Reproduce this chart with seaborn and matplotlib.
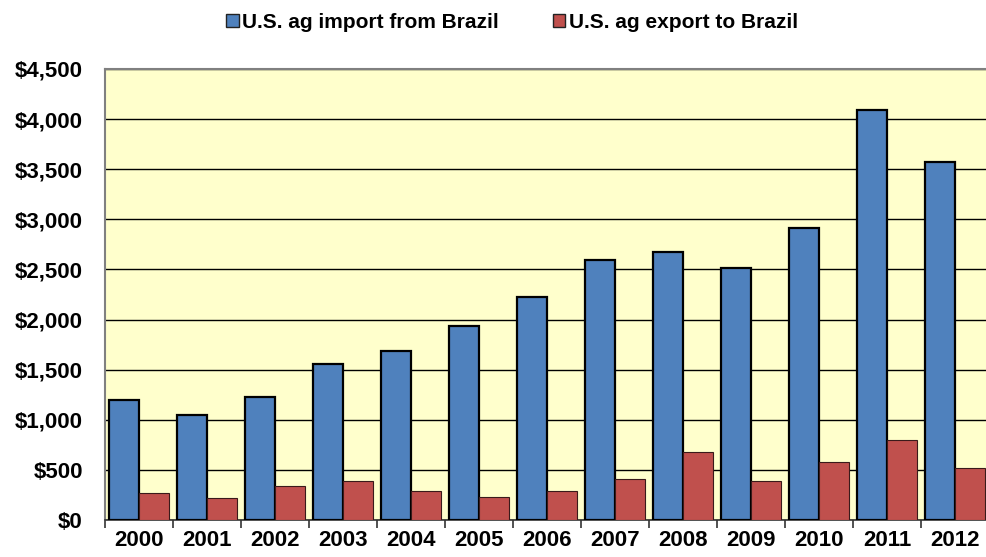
import pandas as pd
import numpy as np
import matplotlib.pyplot as plt
import seaborn as sns

# datos (millones de USD)
years = ['2000', '2001', '2002', '2003', '2004', '2005', '2006',
         '2007', '2008', '2009', '2010', '2011', '2012']
imports = [1195, 1050, 1225, 1560, 1690, 1940, 2225,
           2595, 2675, 2515, 2910, 4090, 3570]
exports = [272, 222, 338, 392, 290, 232, 290,
           410, 680, 390, 580, 800, 518]
series = ['U.S. ag import from Brazil', 'U.S. ag export to Brazil']

df = pd.DataFrame({
    'year': years * 2,
    'value': imports + exports,
    'serie': [series[0]] * len(years) + [series[1]] * len(years),
})

#%%
sns.set_style('white')
plt.rcParams['font.family'] = ['Liberation Sans', 'DejaVu Sans']
plt.rcParams['font.weight'] = 'bold'
plt.rcParams['text.color'] = 'black'
plt.rcParams['xtick.color'] = 'black'
plt.rcParams['ytick.color'] = 'black'

fig = plt.figure(figsize=(9.87, 5.57), dpi=100)
ax = fig.add_axes([105 / 987, 1 - 520 / 557, 884 / 987, 451 / 557])
ax.set_facecolor('#FFFFCC')

sns.barplot(data=df, x='year', y='value', hue='serie', order=years,
            hue_order=series, palette=['#4F81BD', '#C0504D'], saturation=1,
            width=0.87, gap=0, ax=ax, legend=False, zorder=3)

n = len(years)
for i, p in enumerate(ax.patches):
    if i < n:
        p.set_edgecolor('black')
        p.set_linewidth(1.6)
    else:
        p.set_edgecolor('#3a1a1a')
        p.set_linewidth(0.8)

# ejes y grilla
ax.set_ylim(0, 4500)
ax.set_yticks(np.arange(0, 4501, 500))
ax.set_yticklabels(['${:,.0f}'.format(v) for v in np.arange(0, 4501, 500)],
                   fontsize=16, fontweight='bold')
ax.yaxis.grid(True, color='black', linewidth=1.0, zorder=1)
ax.set_axisbelow(True)
ax.tick_params(axis='y', length=0, pad=16)

ax.set_xlim(-0.5, n - 0.5)
ax.set_xticks(range(n))
ax.set_xticklabels(years, fontsize=16, fontweight='bold')
ax.set_xticks(np.arange(-0.5, n, 1), minor=True)
ax.tick_params(axis='x', which='major', length=0, pad=7)
ax.tick_params(axis='x', which='minor', length=6, width=1.2,
               color='#333333', direction='out', bottom=True)

ax.set_xlabel('')
ax.set_ylabel('')

ax.spines['right'].set_visible(False)
ax.spines['top'].set_color('#808080')
ax.spines['top'].set_linewidth(1.5)
ax.spines['left'].set_color('#808080')
ax.spines['left'].set_linewidth(1.5)
ax.spines['bottom'].set_color('#333333')
ax.spines['bottom'].set_linewidth(1.2)

# leyenda arriba
handles = [plt.Rectangle((0, 0), 1, 1, facecolor='#4F81BD', edgecolor='#222222', linewidth=1),
           plt.Rectangle((0, 0), 1, 1, facecolor='#C0504D', edgecolor='#222222', linewidth=1)]
fig.legend(handles, series, loc='center', bbox_to_anchor=(512 / 987, 1 - 22 / 557),
           ncol=2, frameon=False, handlelength=0.6, handleheight=0.6,
           handletextpad=0.15, columnspacing=2.6,
           prop={'size': 15, 'weight': 'bold'})

plt.savefig('out.png', dpi=100)
